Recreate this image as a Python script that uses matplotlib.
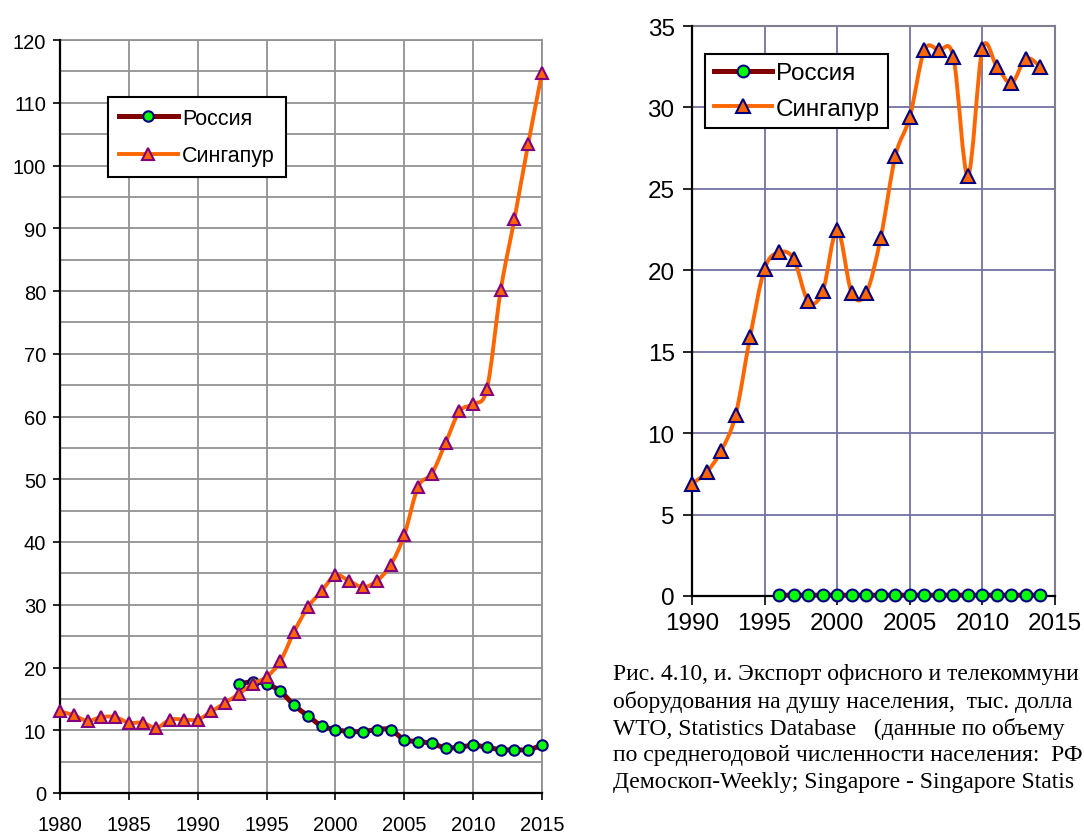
import numpy as np
import matplotlib
matplotlib.use('Agg')
import matplotlib.pyplot as plt
from matplotlib.path import Path
from matplotlib.patches import PathPatch
from matplotlib.lines import Line2D

plt.rcParams['font.family'] = ['Liberation Sans', 'DejaVu Sans']

# --- left chart: 1980-2015 ---
years_left = list(range(1980, 2016))
singapore_left = [13.0, 12.4, 11.5, 12.1, 12.1, 11.2, 11.2, 10.4, 11.7, 11.7,
                  11.7, 13.0, 14.4, 15.8, 17.4, 18.5, 21.0, 25.7, 29.6, 32.2,
                  34.7, 33.8, 32.8, 33.8, 36.3, 41.1, 48.8, 50.9, 55.8, 60.8,
                  62.0, 64.4, 80.1, 91.5, 103.5, 114.8]
years_russia_left = list(range(1993, 2016))
russia_left = [17.4, 17.7, 17.4, 16.2, 14.0, 12.3, 10.7, 10.1, 9.8, 9.8,
               10.1, 10.1, 8.5, 8.2, 7.9, 7.2, 7.3, 7.6, 7.3, 6.9,
               6.9, 6.9, 7.6]

# --- right chart: 1990-2014 ---
years_right = list(range(1990, 2015))
singapore_right = [6.9, 7.6, 8.9, 11.1, 15.9, 20.1, 21.1, 20.7, 18.1, 18.7,
                   22.5, 18.6, 18.6, 22.0, 27.0, 29.4, 33.5, 33.5, 33.1, 25.8,
                   33.6, 32.5, 31.5, 33.0, 32.5]
years_russia_right = list(range(1996, 2015))
russia_right = [0.05, 0.05, 0.05, 0.05, 0.05, 0.05, 0.05, 0.05, 0.05, 0.05,
                0.05, 0.05, 0.05, 0.05, 0.05, 0.05, 0.05, 0.05, 0.05]

labels = ['Россия', 'Сингапур']
# caption as far as it is visible (the page cuts it at the right edge)
caption = ['Рис. 4.10, и. Экспорт офисного и телекоммуни',
           'оборудования на душу населения,  тыс. долла',
           'WTO, Statistics Database   (данные по объему',
           'по среднегодовой численности населения:  РФ',
           'Демоскоп-Weekly; Singapore - Singapore Statis']

ORANGE = '#ff6600'
DARKRED = '#800000'
LIME = '#00ff00'
NAVY = '#000080'
PURPLE = '#800080'


def smooth_path(x, y):
    # Excel-like smoothed line: cubic bezier through every point
    x = np.asarray(x, float)
    y = np.asarray(y, float)
    n = len(x)
    verts = [(x[0], y[0])]
    codes = [Path.MOVETO]
    for i in range(n - 1):
        xp, yp = (x[i - 1], y[i - 1]) if i > 0 else (x[i], y[i])
        xn, yn = (x[i + 2], y[i + 2]) if i + 2 < n else (x[i + 1], y[i + 1])
        c1 = (x[i] + (x[i + 1] - xp) / 6, y[i] + (y[i + 1] - yp) / 6)
        c2 = (x[i + 1] - (xn - x[i]) / 6, y[i + 1] - (yn - y[i]) / 6)
        verts += [c1, c2, (x[i + 1], y[i + 1])]
        codes += [Path.CURVE4] * 3
    return Path(verts, codes)


def draw_series(ax, x, y, color, lw, marker, ms, mfc, mec, z):
    ax.add_patch(PathPatch(smooth_path(x, y), fill=False, edgecolor=color,
                           lw=lw, zorder=z, capstyle='round', joinstyle='round',
                           clip_on=False))
    ax.plot(x, y, linestyle='none', marker=marker, ms=ms, mfc=mfc, mec=mec,
            mew=1.5, zorder=z + 0.5, clip_on=False)


fig = plt.figure(figsize=(10.84, 8.37), dpi=100)

# ---------------- left chart ----------------
ax1 = fig.add_axes([60 / 1084, 1 - 794 / 837, 482 / 1084, 753 / 837])
ax1.set_xlim(1980, 2015)
ax1.set_ylim(0, 120)
ax1.set_xticks(range(1980, 2016, 5))
ax1.set_yticks(range(0, 121, 10))
ax1.set_yticks(range(5, 120, 10), minor=True)
ax1.grid(True, which='both', color='#929292', lw=1.3, zorder=0)
ax1.tick_params(axis='both', which='major', labelsize=14.5, length=5, width=1.2,
                direction='out')
ax1.tick_params(axis='y', pad=5)
ax1.tick_params(axis='x', pad=11)
ax1.tick_params(which='minor', length=0)
for s in ['left', 'bottom']:
    ax1.spines[s].set_color('black')
    ax1.spines[s].set_linewidth(1.6)
    ax1.spines[s].set_zorder(3)
for s in ['top', 'right']:
    ax1.spines[s].set_color('#929292')
    ax1.spines[s].set_linewidth(1.3)

draw_series(ax1, years_russia_left, russia_left, DARKRED, 3.6, 'o', 7.5, LIME, NAVY, 4)
draw_series(ax1, years_left, singapore_left, ORANGE, 2.8, '^', 9, ORANGE, PURPLE, 5)

h1 = [Line2D([], [], color=DARKRED, lw=3.6, marker='o', ms=7.5, mfc=LIME, mec=NAVY, mew=1.5),
      Line2D([], [], color=ORANGE, lw=2.8, marker='^', ms=9, mfc=ORANGE, mec=PURPLE, mew=1.5)]
leg1 = ax1.legend(h1, labels, loc='upper left', bbox_to_anchor=(0.0996, 0.924),
                  fontsize=15.5, frameon=True, fancybox=False, edgecolor='black',
                  framealpha=1, handlelength=2.75, handletextpad=0.2,
                  borderaxespad=0, borderpad=0.5, labelspacing=0.75)
leg1.get_frame().set_linewidth(1.5)

# ---------------- right chart ----------------
ax2 = fig.add_axes([692 / 1084, 1 - 597 / 837, 363 / 1084, 570 / 837])
ax2.set_xlim(1990, 2015)
ax2.set_ylim(0, 35)
ax2.set_xticks(range(1990, 2016, 5))
ax2.set_yticks(range(0, 36, 5))
ax2.grid(True, color='#7272a2', lw=1.3, zorder=0)
ax2.tick_params(axis='both', labelsize=17.5, length=6.5, width=1.2, direction='out')
ax2.tick_params(axis='y', pad=6)
ax2.tick_params(axis='x', pad=5)
for s in ['left', 'bottom']:
    ax2.spines[s].set_color('black')
    ax2.spines[s].set_linewidth(1.6)
    ax2.spines[s].set_zorder(3)
for s in ['top', 'right']:
    ax2.spines[s].set_color('#7f7f90')
    ax2.spines[s].set_linewidth(1.5)

draw_series(ax2, years_russia_right, russia_right, DARKRED, 3.6, 'o', 8.5, LIME, NAVY, 4)
draw_series(ax2, years_right, singapore_right, ORANGE, 2.8, '^', 9.5, ORANGE, NAVY, 5)

h2 = [Line2D([], [], color=DARKRED, lw=3.6, marker='o', ms=8.5, mfc=LIME, mec=NAVY, mew=1.5),
      Line2D([], [], color=ORANGE, lw=2.8, marker='^', ms=9.5, mfc=ORANGE, mec=NAVY, mew=1.5)]
leg2 = ax2.legend(h2, labels, loc='upper left', bbox_to_anchor=(0.036, 0.951),
                  fontsize=17.5, frameon=True, fancybox=False, edgecolor='black',
                  framealpha=1, handlelength=2.4, handletextpad=0.15,
                  borderaxespad=0, borderpad=0.35, labelspacing=0.55)
leg2.get_frame().set_linewidth(1.5)

# ---------------- caption ----------------
for i, line in enumerate(caption):
    fig.text(613 / 1084, 1 - (675 + i * 27) / 837, line, fontsize=17,
             family=['Liberation Serif', 'DejaVu Serif'], va='center', ha='left')

fig.savefig('out.png', dpi=100)
